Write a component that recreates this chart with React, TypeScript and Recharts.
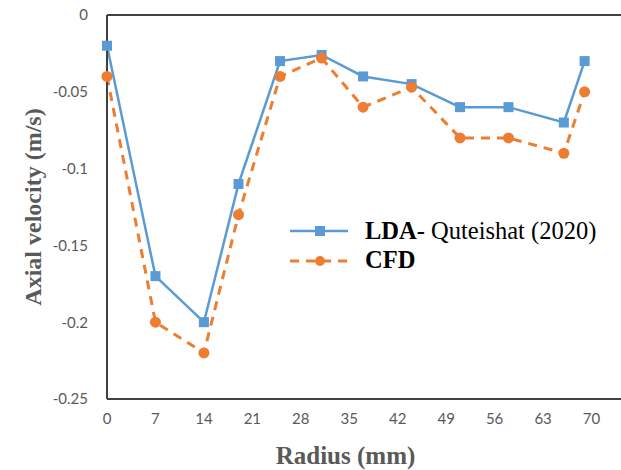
import React from 'react';
import { LineChart, Line, XAxis, YAxis, ReferenceLine } from 'recharts';

// radius positions (mm) and axial velocity (m/s)
const radius = [0, 7, 14, 19, 25, 31, 37, 44, 51, 58, 66, 69];
const ldaVelocity = [-0.02, -0.17, -0.2, -0.11, -0.03, -0.026, -0.04, -0.045, -0.06, -0.06, -0.07, -0.03];
const cfdVelocity = [-0.04, -0.2, -0.22, -0.13, -0.04, -0.028, -0.06, -0.047, -0.08, -0.08, -0.09, -0.05];

const xTicks = [0, 7, 14, 21, 28, 35, 42, 49, 56, 63, 70];
const yTicks = [-0.25, -0.2, -0.15, -0.1, -0.05, 0];

const BLUE = '#5B9BD5';
const ORANGE = '#ED7D31';
const AXIS = '#404040';
const TICK = '#595959';
const SERIF = '"Liberation Serif", "Times New Roman", serif';

const data = radius.map((r, i) => ({ r, lda: ldaVelocity[i], cfd: cfdVelocity[i] }));

const SquareDot = (props: any) => {
  const { cx, cy, index } = props;
  if (cx == null || cy == null) return null;
  return <rect key={`sq-${index}`} x={cx - 5} y={cy - 5} width={10} height={10} fill={BLUE} />;
};

const RoundDot = (props: any) => {
  const { cx, cy, index } = props;
  if (cx == null || cy == null) return null;
  return <circle key={`ci-${index}`} cx={cx} cy={cy} r={5.5} fill={ORANGE} />;
};

// legend drawn as an overlay so it doesn't eat into the plot area
const LegendBox = () => (
  <div
    style={{
      position: 'absolute',
      left: 286,
      top: 216,
      fontFamily: SERIF,
      fontSize: 24.5,
      color: '#000',
      whiteSpace: 'nowrap',
      lineHeight: 1,
    }}
  >
    <div style={{ display: 'flex', alignItems: 'center', height: 30 }}>
      <svg width={66} height={20}>
        <line x1={4} y1={10} x2={62} y2={10} stroke={BLUE} strokeWidth={2.5} />
        <rect x={29} y={5} width={10} height={10} fill={BLUE} />
      </svg>
      <span style={{ marginLeft: 13 }}>
        <b>LDA</b>- Quteishat (2020)
      </span>
    </div>
    <div style={{ display: 'flex', alignItems: 'center', height: 29 }}>
      <svg width={66} height={20}>
        <line x1={4} y1={10} x2={62} y2={10} stroke={ORANGE} strokeWidth={3} strokeDasharray="9 7" />
        <circle cx={34} cy={10} r={5} fill={ORANGE} />
      </svg>
      <span style={{ marginLeft: 13 }}>
        <b>CFD</b>
      </span>
    </div>
  </div>
);

const App = () => {
  return (
    <div style={{ position: 'absolute', left: 0, top: 0, width: 621, height: 470, overflow: 'hidden', background: '#fff' }}>
      <LineChart width={652} height={470} data={data} margin={{ top: 15, right: 12, left: 0, bottom: 0 }}>
        <XAxis
          dataKey="r"
          type="number"
          domain={[0, 77]}
          ticks={xTicks}
          interval={0}
          tickLine={false}
          tickSize={0}
          tickMargin={14}
          height={71}
          axisLine={{ stroke: AXIS, strokeWidth: 2 }}
          tick={{ fontSize: 15, fill: TICK, fontFamily: 'Lato, sans-serif' }}
          label={{
            value: 'Radius (mm)',
            position: 'insideBottom',
            offset: 6,
            dx: -28,
            style: { fontFamily: SERIF, fontWeight: 'bold', fontSize: 25, fill: TICK },
          }}
        />
        <YAxis
          type="number"
          domain={[-0.25, 0]}
          ticks={yTicks}
          interval={0}
          width={107}
          tickLine={false}
          tickSize={0}
          tickMargin={19}
          axisLine={{ stroke: AXIS, strokeWidth: 2 }}
          tick={{ fontSize: 15, fill: TICK, fontFamily: 'Lato, sans-serif' }}
          label={{
            value: 'Axial velocity (m/s)',
            angle: -90,
            position: 'insideLeft',
            offset: 32,
            style: { textAnchor: 'middle', fontFamily: SERIF, fontWeight: 'bold', fontSize: 24, fill: TICK },
          }}
        />
        <ReferenceLine y={0} stroke={AXIS} strokeWidth={2} />
        <Line
          dataKey="lda"
          stroke={BLUE}
          strokeWidth={2.5}
          dot={<SquareDot />}
          activeDot={false}
          isAnimationActive={false}
        />
        <Line
          dataKey="cfd"
          stroke={ORANGE}
          strokeWidth={3}
          strokeDasharray="9 7"
          dot={<RoundDot />}
          activeDot={false}
          isAnimationActive={false}
        />
      </LineChart>
      <LegendBox />
    </div>
  );
};

export default App;
